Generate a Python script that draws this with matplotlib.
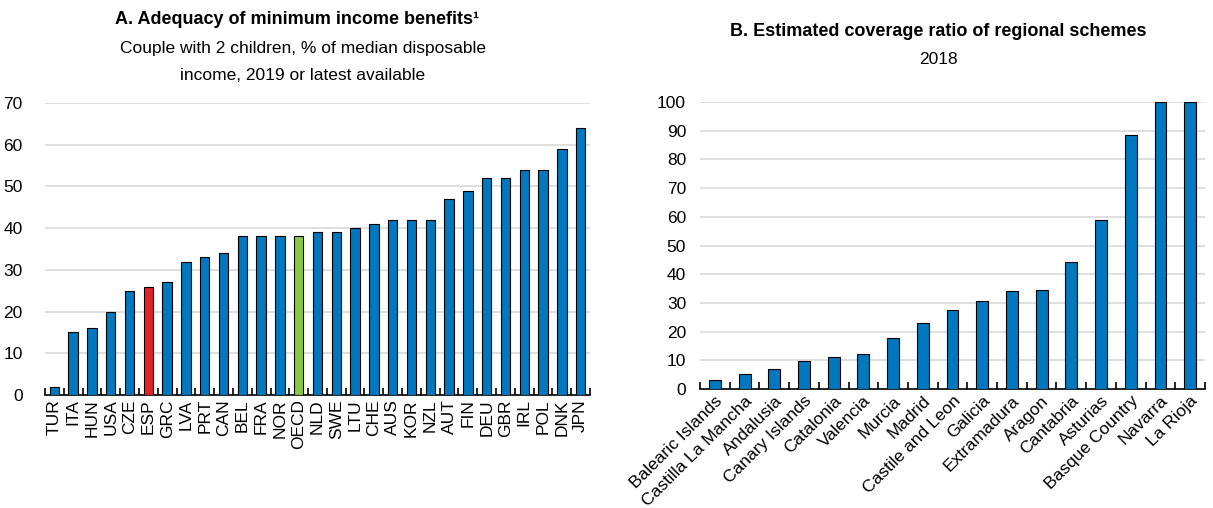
import matplotlib
matplotlib.use("Agg")
import matplotlib.pyplot as plt
import numpy as np
from matplotlib import font_manager

countries = ["TUR", "ITA", "HUN", "USA", "CZE", "ESP", "GRC", "LVA", "PRT", "CAN", "BEL", "FRA", "NOR",
             "OECD", "NLD", "SWE", "LTU", "CHE", "AUS", "KOR", "NZL", "AUT", "FIN", "DEU", "GBR", "IRL",
             "POL", "DNK", "JPN"]
adequacy = [2, 15, 16, 20, 25, 26, 27, 32, 33, 34, 38, 38, 38, 38, 39, 39, 40, 41, 42, 42, 42, 47, 49,
            52, 52, 54, 54, 59, 64]

regions = ["Balearic Islands", "Castilla La Mancha", "Andalusia", "Canary Islands", "Catalonia", "Valencia",
           "Murcia", "Madrid", "Castile and Leon", "Galicia", "Extramadura", "Aragon", "Cantabria",
           "Asturias", "Basque Country", "Navarra", "La Rioja"]
coverage = [3.0, 5.2, 7.0, 9.8, 11.3, 12.3, 17.8, 22.9, 27.5, 30.7, 34.0, 34.6, 44.2, 58.8, 88.5, 100, 100]

avail = {f.name for f in font_manager.fontManager.ttflist}
fam = [f for f in ["Liberation Sans Narrow", "Liberation Sans", "DejaVu Sans"] if f in avail]
plt.rcParams["font.family"] = fam

BLUE = "#0077BE"
RED = "#E0242A"
GREEN = "#8CC83F"
GRID = "#D9D9D9"

W, H = 1213, 508
fig = plt.figure(figsize=(W / 100, H / 100), dpi=100)
axA = fig.add_axes([45 / W, 113 / H, 545 / W, 292 / H])
axB = fig.add_axes([700 / W, 119 / H, 505 / W, 287 / H])


def style(ax, n, ymax, step, pad):
    ax.set_ylim(0, ymax)
    ax.set_xlim(-0.5, n - 0.5)
    ax.set_yticks(np.arange(0, ymax + 1, step))
    for y in np.arange(step, ymax + 1, step):
        ax.axhline(y, color=GRID, lw=1.2, zorder=0)
    for s in ["top", "right", "left"]:
        ax.spines[s].set_visible(False)
    ax.spines["bottom"].set_linewidth(1.2)
    ax.tick_params(axis="y", length=0, labelsize=12.5, pad=pad)
    ax.set_xticks(np.arange(n))
    ax.tick_params(axis="x", length=0, labelsize=12.5, pad=3)
    ax.set_xticks(np.arange(-0.5, n, 1.0), minor=True)
    ax.tick_params(axis="x", which="minor", direction="in", length=5, width=1.2)


colorsA = [RED if c == "ESP" else GREEN if c == "OECD" else BLUE for c in countries]
xA = np.arange(len(countries))
axA.bar(xA, adequacy, width=0.5, color=colorsA, edgecolor="black", linewidth=0.8, zorder=3)
style(axA, len(countries), 70, 10, 16)
axA.set_xticklabels(countries, rotation=90)

xB = np.arange(len(regions))
axB.bar(xB, coverage, width=0.4, color=BLUE, edgecolor="black", linewidth=0.8, zorder=3)
style(axB, len(regions), 100, 10, 10)
axB.set_xticklabels(regions, rotation=45, ha="right", rotation_mode="anchor")

fig.text(297 / W, 1 - 20 / H, "A. Adequacy of minimum income benefits\u00b9", fontsize=13,
         fontweight="bold", ha="center", va="center")
fig.text(303 / W, 1 - 48 / H, "Couple with 2 children, % of median disposable", fontsize=12.5,
         ha="center", va="center")
fig.text(303 / W, 1 - 76 / H, "income, 2019 or latest available", fontsize=12.5,
         ha="center", va="center")
fig.text(938 / W, 1 - 32 / H, "B. Estimated coverage ratio of regional schemes", fontsize=13,
         fontweight="bold", ha="center", va="center")
fig.text(938 / W, 1 - 60 / H, "2018", fontsize=12.5, ha="center", va="center")

fig.savefig("out.png", dpi=100)
